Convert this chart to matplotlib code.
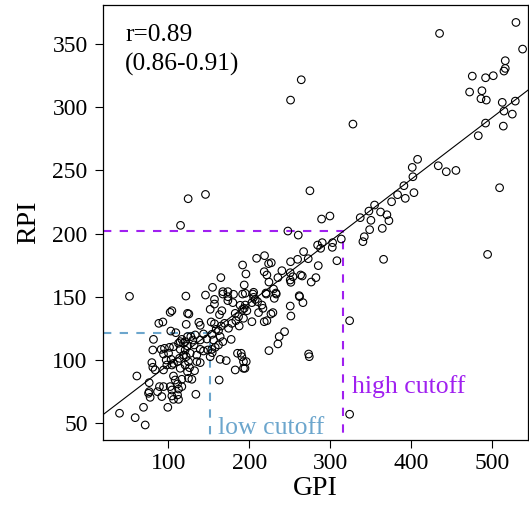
import matplotlib
matplotlib.use("Agg")
import matplotlib.pyplot as plt
import numpy as np

plt.rcParams["font.family"] = ["Liberation Serif", "DejaVu Serif"]

# GPI / RPI pairs
gpi = [
    52.2, 121.8, 146.0, 157.1, 167.4, 173.6, 180.6, 173.6, 179.8, 188.8,
    157.1, 151.8, 163.3, 166.2, 182.7, 191.7, 104.5, 102.4, 123.8, 125.5,
    88.4, 93.4, 122.2, 137.8, 139.5, 153.0, 157.1, 159.2, 165.4, 169.5,
    174.4, 178.5, 183.5, 187.6, 186.8, 192.9, 103.2, 109.4, 81.8, 116.8,
    120.9, 123.8, 127.9, 133.3, 130.4, 139.5, 143.6, 147.7, 153.9, 155.9,
    162.1, 164.1, 167.4, 177.7, 162.1, 158.0, 148.9, 153.9, 143.6, 139.5,
    132.0, 123.8, 120.9, 114.8, 112.7, 106.5, 101.6, 95.4, 91.3, 100.4,
    94.2, 81.0, 118.9, 122.2, 127.1, 135.3, 139.5, 135.3, 125.0, 120.9,
    113.9, 111.5, 106.5, 103.6, 97.5, 98.3, 94.2, 83.9, 79.8, 81.0,
    104.5, 114.8, 126.3, 123.8, 132.5, 151.8, 154.3, 164.1, 171.6, 185.5,
    190.9, 192.9, 192.9, 182.7, 162.9, 61.3, 76.5, 106.5, 108.6, 116.8,
    111.5, 116.8, 112.7, 104.5, 102.4, 94.2, 89.2, 86.8, 92.1, 76.5,
    77.7, 75.7, 104.5, 106.5, 112.7, 111.5, 99.5, 69.5, 59.2, 71.6,
    39.9, 134.1, 125.0, 129.2, 114.8, 118.9,
    191.8, 204.5, 205.4, 207.4, 210.3, 203.3, 195.1, 193.8, 197.1, 215.6,
    216.9, 211.5, 221.0, 233.3, 230.9, 203.3, 218.5, 221.8, 226.8, 229.2,
    250.6, 251.4, 262.1, 266.3, 243.6, 237.0, 235.4, 224.3, 273.3, 274.1,
    190.1, 196.3, 194.7, 323.9, 323.9,
    274.9, 289.3, 299.6, 247.7, 260.5, 337.0, 347.7, 354.7, 362.1, 350.2,
    348.6, 364.2, 342.0, 340.3, 313.6, 302.9, 302.5, 290.1, 284.4, 288.1,
    267.1, 272.8, 308.2, 285.2, 259.7, 251.0, 209.1, 218.9, 223.9, 227.2,
    195.9, 218.5, 221.8, 240.3, 250.6, 253.9, 263.4, 265.4, 250.6, 251.4,
    235.4, 224.3, 276.5, 282.3, 365.8, 193.8, 205.4, 195.1, 220.6, 230.0,
    232.9, 261.7, 191.8,
    124.6, 146.0, 115.2, 165.0, 154.7, 167.4, 173.6,
    407.8, 401.2, 433.3, 443.2, 455.1, 402.0, 390.9, 383.1, 392.6, 403.3,
    375.7, 369.9, 372.4, 509.0, 494.2,
    434.9, 529.2, 537.4, 516.0, 516.0, 514.4, 475.3, 491.7, 501.2, 472.0,
    487.2, 486.0, 492.6, 512.3, 528.4, 514.4, 524.7, 491.7, 513.6, 482.7,
    264.2, 251.0, 328.0,
]
rpi = [
    150.3, 150.5, 151.3, 147.9, 152.1, 150.0, 151.9, 146.9, 145.3, 143.2,
    144.2, 140.0, 135.8, 138.9, 136.8, 140.0, 138.9, 137.6, 136.8, 136.3,
    128.9, 130.0, 128.1, 129.7, 127.3, 130.0, 128.6, 124.2, 126.8, 128.9,
    125.0, 128.9, 131.0, 126.8, 134.2, 132.9, 122.8, 121.5, 116.2, 116.2,
    114.4, 118.4, 118.4, 119.7, 115.7, 115.7, 120.5, 116.5, 120.2, 115.7,
    123.1, 118.4, 114.4, 116.2, 111.8, 109.9, 107.8, 108.3, 107.0, 108.3,
    111.8, 111.0, 107.8, 108.3, 113.1, 110.4, 109.9, 109.1, 108.3, 105.2,
    104.6, 107.8, 103.8, 102.5, 105.2, 103.8, 97.8, 98.6, 98.6, 95.9,
    101.2, 98.6, 97.2, 100.4, 99.9, 95.9, 92.0, 92.0, 97.8, 94.1,
    95.9, 93.3, 93.8, 90.6, 91.4, 102.5, 105.7, 100.4, 99.4, 105.2,
    102.5, 98.6, 93.3, 92.0, 84.0, 87.2, 81.9, 87.2, 84.0, 84.6,
    80.9, 78.8, 76.9, 76.1, 78.8, 78.8, 78.8, 74.8, 70.9, 74.8,
    70.3, 73.5, 71.4, 68.7, 68.7, 72.2, 62.4, 62.4, 54.2, 48.4,
    57.7, 72.7, 85.4, 84.6, 114.4, 113.1,
    152.1, 152.1, 149.5, 147.9, 146.1, 145.3, 143.4, 140.8, 138.9, 143.4,
    140.8, 137.4, 152.1, 152.1, 148.7, 130.2, 130.2, 131.0, 136.3, 137.4,
    142.6, 134.7, 150.0, 145.3, 122.3, 118.4, 112.6, 107.3, 104.6, 102.5,
    105.2, 98.6, 93.3, 131.0, 56.9,
    233.9, 211.5, 213.9, 202.0, 198.8, 212.6, 217.8, 222.6, 217.1, 210.5,
    203.1, 204.1, 197.5, 193.6, 195.7, 192.8, 189.1, 192.8, 190.9, 188.3,
    185.7, 180.1, 178.5, 174.6, 179.6, 177.7, 180.4, 182.5, 176.2, 176.9,
    168.0, 169.8, 167.2, 170.6, 169.0, 165.8, 167.2, 166.4, 163.2, 161.4,
    165.1, 161.6, 161.6, 165.1, 179.6, 159.3, 153.5, 152.7, 152.9, 156.1,
    152.9, 150.8, 175.1,
    227.6, 231.0, 206.5, 165.1, 157.4, 154.0, 154.0,
    258.8, 252.4, 253.7, 249.0, 250.0, 245.0, 237.9, 230.8, 227.9, 232.4,
    225.2, 214.9, 210.2, 236.3, 183.5,
    358.5, 367.2, 346.1, 336.9, 330.8, 328.7, 324.7, 323.4, 325.0, 312.1,
    313.1, 306.8, 305.7, 303.9, 304.9, 297.0, 294.6, 287.5, 285.1, 277.5,
    321.8, 305.7, 286.7,
]

# fitted line and RPI cutoffs
fit_intercept = 47.0
fit_slope = 0.49
low_rpi = 121.5
high_rpi = 202.0
r_text = "r=0.89\n(0.86-0.91)"

low_col = "#6CA6CD"
high_col = "#A020F0"

fig = plt.figure(figsize=(5.29, 5.12), dpi=100)
ax = fig.add_axes([0.1947, 0.1406, 0.8033, 0.8496])

ax.scatter(gpi, rpi, s=30, facecolors="none", edgecolors="black", linewidths=0.8, zorder=3)

xlim = (19.5, 544)
ylim = (36.5, 381)
xs = np.array(xlim)
ax.plot(xs, fit_intercept + fit_slope * xs, color="black", lw=0.8, zorder=2)

low_gpi = (low_rpi - fit_intercept) / fit_slope
high_gpi = (high_rpi - fit_intercept) / fit_slope
for g, r, c in [(low_gpi, low_rpi, low_col), (high_gpi, high_rpi, high_col)]:
    ax.plot([xlim[0], g, g], [r, r, ylim[0]], color=c, lw=1.5,
            dashes=(4, 4), zorder=1)

ax.text(low_gpi + 10, 41, "low cutoff", color=low_col, fontsize=18.5, va="baseline")
ax.text(high_gpi + 10, 74, "high cutoff", color=high_col, fontsize=18.5, va="baseline")
ax.text(47, 366, r_text, fontsize=18.3, va="top", linespacing=1.4)

ax.set_xlim(xlim)
ax.set_ylim(ylim)
ax.set_xticks([100, 200, 300, 400, 500])
ax.set_yticks([50, 100, 150, 200, 250, 300, 350])
ax.tick_params(labelsize=17, length=6, width=0.8, pad=3)
ax.tick_params(axis="y", pad=5)
for s in ax.spines.values():
    s.set_linewidth(0.9)

ax.set_xlabel("GPI", fontsize=20, labelpad=2)
ax.set_ylabel("RPI", fontsize=20, labelpad=8)

fig.savefig("out.png", dpi=100)
